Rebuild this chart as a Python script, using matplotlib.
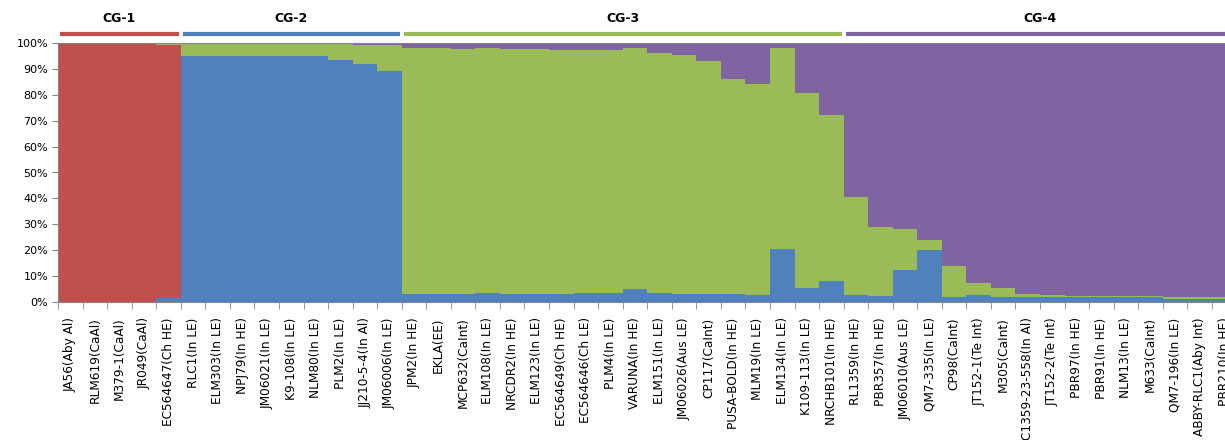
import matplotlib.pyplot as plt
import numpy as np

# Sample names (in plot order) and cluster membership.
samples = [
    'JA56(Aby Al)', 'RLM619(CaAl)', 'M379-1(CaAl)', 'JR049(CaAl)', 'EC564647(Ch HE)',
    'RLC1(In LE)', 'ELM303(In LE)', 'NPJ79(In HE)', 'JM06021(In LE)', 'K9-108(In LE)',
    'NLM80(In LE)', 'PLM2(In LE)', 'JJ210-5-4(In Al)', 'JM06006(In LE)',
    'JPM2(In HE)', 'EKLA(EE)', 'MCP632(CaInt)', 'ELM108(In LE)', 'NRCDR2(In HE)',
    'ELM123(In LE)', 'EC564649(Ch HE)', 'EC564646(Ch LE)', 'PLM4(In LE)', 'VARUNA(In HE)',
    'ELM151(In LE)', 'JM06026(Aus LE)', 'CP117(CaInt)', 'PUSA-BOLD(In HE)', 'MLM19(In LE)',
    'ELM134(In LE)', 'K109-113(In LE)', 'NRCHB101(In HE)',
    'RL1359(In HE)', 'PBR357(In HE)', 'JM06010(Aus LE)', 'QM7-335(In LE)', 'CP98(CaInt)',
    'JT152-1(Te Int)', 'M305(CaInt)', 'C1359-23-558(In Al)', 'JT152-2(Te Int)',
    'PBR97(In HE)', 'PBR91(In HE)', 'NLM13(In LE)', 'M633(CaInt)', 'QM7-196(In LE)',
    'ABBY-RLC1(Aby Int)', 'PBR210(In HE)',
]
groups = ['CG-1', 'CG-2', 'CG-3', 'CG-4']
group_sizes = [5, 9, 18, 16]

# Membership coefficients (%).
blue = [0, 0, 0, 0, 1.5,
        94.8, 94.8, 94.8, 94.8, 94.8, 94.8, 93.5, 91.9, 89.2,
        3.2, 3.2, 3.2, 3.6, 3.2, 3.2, 3.2, 3.6, 3.6, 4.9, 3.6, 3.2, 3.2, 3.2, 2.8, 20.5, 5.4, 8.1,
        2.7, 2.3, 12.4, 20.1, 1.8, 2.7, 2.0, 1.8, 1.8, 1.9, 1.9, 1.9, 1.9, 1.2, 1.2, 1.2]
red = [100, 100, 100, 100, 97.8] + [0] * 43
green_top = [100, 100, 100, 100, 100,
             100, 100, 100, 100, 99.5, 99.5, 99.5, 99.4, 99.2,
             98.0, 98.0, 97.6, 98.1, 97.6, 97.6, 97.2, 97.2, 97.2, 98.1, 96.3, 95.4, 93.1, 86.0, 84.3, 98.1, 80.7, 72.2,
             40.4, 28.8, 28.1, 23.9, 13.8, 7.5, 5.3, 3.1, 2.7, 2.4, 2.4, 2.4, 2.4, 1.8, 1.8, 1.8]

blue = np.array(blue)
red = np.array(red)
green_top = np.array(green_top)
green = green_top - blue - red
purple = 100 - green_top

c_red, c_blue, c_green, c_purple = '#C0504D', '#4F81BD', '#9BBB59', '#8064A2'

fig = plt.figure(figsize=(12.25, 4.4), dpi=100)
n = len(samples)
# plot runs a little past the right edge, as in the original screenshot
ax = fig.add_axes([58 / 1225, 1 - 302 / 440, n * 24.55 / 1225, 259 / 440])

x = np.arange(n)
ax.bar(x, blue, width=1, color=c_blue, linewidth=0)
ax.bar(x, red, width=1, bottom=blue, color=c_red, linewidth=0)
ax.bar(x, green, width=1, bottom=blue + red, color=c_green, linewidth=0)
ax.bar(x, purple, width=1, bottom=green_top, color=c_purple, linewidth=0)

ax.set_xlim(-0.5, n - 0.5)
ax.set_ylim(0, 100)

# y axis
ax.set_yticks(np.arange(0, 101, 10))
ax.set_yticklabels(['%d%%' % v for v in range(0, 101, 10)], fontsize=8)
ax.tick_params(axis='y', length=4, color='#868686', pad=3)

# x axis: labels at centres, tick marks between categories
ax.set_xticks(x)
ax.set_xticklabels(samples, rotation=90, fontsize=8.7)
ax.tick_params(axis='x', which='major', length=0, pad=11)
ax.set_xticks(np.arange(-0.5, n, 1), minor=True)
ax.tick_params(axis='x', which='minor', length=5, color='#868686')

for side in ['left', 'bottom', 'top']:
    ax.spines[side].set_color('#868686')
ax.spines['right'].set_visible(False)

# cluster headers
group_colors = [c_red, c_blue, c_green, c_purple]
start = 0
for name, size, col in zip(groups, group_sizes, group_colors):
    ax.plot([start - 0.42, start + size - 0.58], [103.4, 103.4], color=col,
            linewidth=3, clip_on=False, solid_capstyle='butt')
    ax.text(start + size / 2 - 0.5, 106.8, name, ha='center', va='bottom',
            fontsize=9, fontweight='bold', clip_on=False)
    start += size

plt.savefig('out.png', dpi=100)
